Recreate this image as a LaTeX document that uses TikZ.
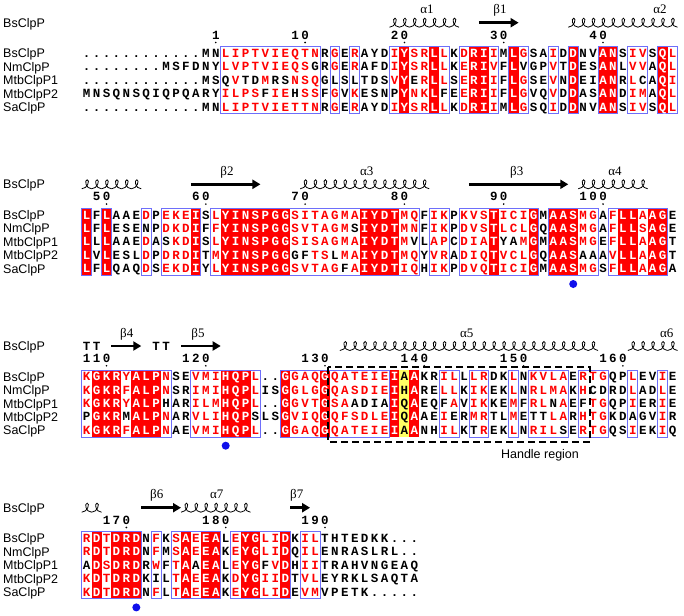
\documentclass[tikz,border=0pt]{standalone}
\usepackage{fontspec}
\setmainfont{Liberation Serif}
\newfontfamily\resfont{Liberation Mono}
\newfontfamily\lblfont{Liberation Sans}
\usetikzlibrary{arrows.meta}
\definecolor{espred}{RGB}{255,0,0}
\definecolor{boxblue}{RGB}{110,110,250}
\definecolor{dotblue}{RGB}{15,15,235}
\definecolor{hlyellow}{RGB}{255,255,100}
\def\sqxz{81.7}
\def\sqcw{9.93}
\def\sqrh{13.4}
\def\sqT{0}
\makeatletter
\newcount\sqcol
\newcount\sqn
\def\sq@end{\sq@end}
\def\sqc{black}
\newcommand\seqat[3]{\global\sqcol=#1\relax\edef\sq@y{#2}\def\sqc{black}\sq@parse#3\sq@end}
\def\sq@parse#1{%
  \ifx#1\sq@end\let\sq@next\relax
  \else\ifx#1+\def\sqc{espred}\let\sq@next\sq@parse
  \else\ifx#1*\def\sqc{white}\let\sq@next\sq@parse
  \else\def\sq@ch{#1}\let\sq@next\sq@place
  \fi\fi\fi\sq@next}
\def\sq@place{\global\advance\sqn by 1\relax
  \node[res,text=\sqc,name=q\the\sqn] at ({\sqxz+(\the\sqcol+0.5)*\sqcw},{\sq@y}) {\sq@ch};%
  \global\advance\sqcol by 1\relax\def\sqc{black}\sq@parse}
\makeatother
\newcommand\rowseq[2]{\seqat{0}{\sqT+\sqrh*#1+\sqrh*0.5+4}{#2}}
\newcommand\colsfill[3]{\fill[#3] ({\sqxz+#1*\sqcw},{\sqT}) rectangle ({\sqxz+(#2+1)*\sqcw},{\sqT+5*\sqrh});}
\newcommand\colsbox[2]{\draw[bbox] ({\sqxz+#1*\sqcw},{\sqT}) rectangle ({\sqxz+(#2+1)*\sqcw},{\sqT+5*\sqrh});}
\newcommand\numlab[3]{\seqat{#1}{\sqT-7.6}{#2}\fill ({\sqxz+(#3+0.5)*\sqcw},{\sqT-4.2}) circle (0.9);}
\newcommand\helix[2]{\foreach \k in {#1,...,#2}{\draw[helixsty] ({\sqxz+\k*\sqcw},{\sqT-19.5}) .. controls +(0.6*\sqcw,0) and +(0.3*\sqcw,0) .. ({\sqxz+(\k+0.55)*\sqcw},{\sqT-28.5}) .. controls +(-0.3*\sqcw,0) and +(-0.6*\sqcw,0) .. ({\sqxz+(\k+1)*\sqcw},{\sqT-19.5});}}
\newcommand\strand[2]{\draw[betasty] ({\sqxz+#1*\sqcw},{\sqT-24}) -- ({\sqxz+(#2+1)*\sqcw},{\sqT-24});}
\newcommand\sslab[3]{\node[greek] (#1) at (#2,{\sqT-33}) {#3};}
\newcommand\bdot[2]{\fill[dotblue] ({\sqxz+(#2+0.5)*\sqcw},{\sqT+75.7}) circle (4);}
\newcommand\rownames[1]{%
 \node[nm] (h#1) at (3,{\sqT-19.5}) {BsClpP};
 \node[nm] (bs#1) at (3,{\sqT+\sqrh*0.5+4.5}) {BsClpP};
 \node[nm] (nm#1) at (3,{\sqT+\sqrh*1.5+4.5}) {NmClpP};
 \node[nm] (ma#1) at (3,{\sqT+\sqrh*2.5+4.5}) {MtbClpP1};
 \node[nm] (mb#1) at (3,{\sqT+\sqrh*3.5+4.5}) {MtbClpP2};
 \node[nm] (sa#1) at (3,{\sqT+\sqrh*4.5+4.5}) {SaClpP};}
\begin{document}
\begin{tikzpicture}[x=1pt,y=-1pt,
  res/.style={font=\resfont\bfseries\fontsize{12.5}{12.5}\selectfont, inner sep=0pt, anchor=base},
  nm/.style={font=\lblfont\fontsize{12.5}{14}\selectfont, inner sep=0pt, anchor=base west},
  greek/.style={font=\fontsize{13}{14}\selectfont, inner sep=0pt, anchor=base},
  helixsty/.style={line width=0.8pt, black},
  betasty/.style={line width=2.8pt, -{Triangle[length=8pt,width=9pt]}},
  bbox/.style={draw=boxblue, line width=0.9pt}]
\fill[white] (0,0) rectangle (684,615);
\useasboundingbox (0,0) rectangle (684,615);
% ---------------- Block 1
\def\sqT{46.7}
\foreach \a/\b in {32/32,35/35,39/40,43/43,49/49,52/53,58/58}{\colsfill{\a}{\b}{espred}}
\foreach \a/\b in {14/23,25/25,27/27,31/36,38/41,43/44,47/47,49/49,52/53,55/56,58/59}{\colsbox{\a}{\b}}
\rowseq{0}{............MN+L+I+P+T+V+I+E+Q+T+NR+GE+RAYD+I*Y+S+R*L+LK+D*R*I+IM*L+GSA+ID*DNV*A*NS+I+VS*Q+L}
\rowseq{1}{........MSFDNY+L+V+P+T+V+I+E+Q+SGR+GE+RAFD+I*Y+S+R*L+LK+E*R*I+VF*LVGP+VT*DES*A*NL+V+VA*Q+L}
\rowseq{2}{............MSQ+VTD+MRS+N+S+QGLSLTDS+V*YE+R*L+LS+E*R*I+IF*L+GSE+VN*DEI*A*NR+LCA*Q+I}
\rowseq{3}{MNSQNSQIQPQARY+I+L+P+SF+I+EH+S+SF+GV+KESNP*Y+N+K*LFE+E*R*I+IF*L+GVQ+VD*DAS*A*ND+I+MA*Q+L}
\rowseq{4}{............MN+L+I+P+T+V+I+E+T+T+NR+GE+RAYD+I*Y+S+R*L+LK+D*R*I+IM*L+GSQ+ID*DNV*A*NS+I+VS*Q+L}
\rownames{1}
\numlab{13}{1}{13}\numlab{21}{10}{22}\numlab{31}{20}{32}\numlab{41}{30}{42}\numlab{51}{40}{52}
\helix{31}{37}\strand{40}{43}\helix{49}{59}
\sslab{a1}{427}{α1}\sslab{b1}{500}{β1}\sslab{a2}{660}{α2}
% ---------------- Block 2
\def\sqT{208.3}
\foreach \a/\b in {0/0,2/2,11/11,14/20,28/31,41/41,45/45,47/49,54/55,57/58}{\colsfill{\a}{\b}{espred}}
\foreach \a/\b in {0/0,2/2,6/6,8/11,13/33,35/36,38/45,47/51,53/58}{\colsbox{\a}{\b}}
\rowseq{0}{*LF*LAAE+DP+E+K+E*IS+L*Y*I*N*S*P*G*G+S+I+T+A+G+M+A*I*Y*D*T+M+QF+I+KP+K+V+S*T+I+C+I*GM*A*A*S+M+GA+F*L*L+A*A*GE}
\rowseq{1}{*LF*LESENP+D+K+D*IF+F*Y*I*N*S*P*G*G+S+V+T+A+G+MS*I*Y*D*T+M+NF+I+KP+D+V+S*T+L+C+L*GQ*A*A*S+M+GA+F*L*L+S*A*GE}
\rowseq{2}{*LL*LAAE+DAS+K+D*IS+L*Y*I*N*S*P*G*G+S+I+S+A+G+M+A*I*Y*D*T+MVL+A+PC+D+I+A*TYA+M*GM*A*A*S+M+GE+F*L*L+A*A*GT}
\rowseq{3}{*LV*LESL+DP+D+R+D*IT+M*Y*I*N*S*P*G*GGF+T+SL+M+A*I*Y*D*T+M+QY+V+RA+D+I+Q*T+V+C+L*GQ*A*A*SAAA+V*L*L+A*A*GT}
\rowseq{4}{*LF*LQAQ+DS+E+K+D*IY+L*Y*I*N*S*P*G*G+S+V+T+A+GF+A*I*Y*D*T+I+QH+I+KP+D+V+Q*T+I+C+I*GM*A*A*S+M+GS+F*L*L+A*A*GA}
\rownames{2}
\numlab{1}{50}{2}\numlab{11}{60}{12}\numlab{21}{70}{22}\numlab{31}{80}{32}\numlab{41}{90}{42}\numlab{50}{100}{52}
\helix{0}{5}\strand{11}{17}\helix{22}{34}\strand{39}{48}\helix{50}{56}
\sslab{b2}{227}{β2}\sslab{a3}{366.7}{α3}\sslab{b3}{516.7}{β3}\sslab{a4}{615}{α4}
\bdot{2}{49}
% ---------------- Block 3
\def\sqT{370}
\foreach \a/\b in {1/3,5/7,14/16,20/20,24/24,31/31,33/33}{\colsfill{\a}{\b}{espred}}
\colsfill{32}{32}{hlyellow}
\foreach \a/\b in {0/8,11/17,20/30,36/37,39/40,43/43,45/48,50/52,55/55,58/58}{\colsbox{\a}{\b}}
\rowseq{0}{+K*G*K*R+Y*A*L*P+NSE+V+M+I*H*Q*P+L..*G+G+A+Q*G+Q+A+T+E+I+E*IA*AKR+I+LL+L+RDK+LN+K+V+L+AE+R+T+GQP+LEV+IE}
\rowseq{1}{+K*G*K*R+F*A*L*P+NSR+I+M+I*H*Q*P+LIS*G+G+L+G*G+Q+A+S+D+I+E*IH*ARE+L+LK+I+KEK+LN+R+L+M+AK+HCDRD+LAD+LE}
\rowseq{2}{+K*G*K*R+Y*A*L*PHAR+I+L+M*H*Q*P+L..*G+G+V+T*G+S+AADIA*IQ*AEQF+AV+I+KKE+MF+R+LN+AEF+T+GQP+IER+IE}
\rowseq{3}{P*G*K*RM*A*L*P+NAR+V+L+I*H*Q*PSLS*G+V+I+Q*G+Q+F+S+D+L+E*IQ*AAE+IER+M+RTL+METT+L+AR+H+T+GKDAGV+IR}
\rowseq{4}{+K*G*K*R+F*A*L*P+NAE+V+M+I*H*Q*P+L..*G+G+A+Q*G+Q+A+T+E+I+E*IA*ANH+I+LKT+REK+LN+R+I+LSE+R+T+GQS+IEK+IQ}
\rownames{3}
\numlab{0}{110}{2}\numlab{10}{120}{12}\numlab{22}{130}{24}\numlab{32}{140}{34}\numlab{42}{150}{44}\numlab{52}{160}{54}
\seqat{0}{\sqT-20}{TT}\seqat{7}{\sqT-20}{TT}
\strand{3}{5}\strand{10}{13}\helix{26}{51}\helix{55}{59}
\sslab{b4}{126.7}{β4}\sslab{b5}{198}{β5}\sslab{a5}{466.7}{α5}\sslab{a6}{666.7}{α6}
\bdot{3}{14}
\draw[line width=2pt, dash pattern=on 7pt off 4pt] (328,{\sqT-3}) rectangle (590,{\sqT+72});
\node[nm, anchor=base] (handle) at (540,458) {Handle region};
% ---------------- Block 4
\def\sqT{531.7}
\foreach \a/\b in {1/1,3/5,10/10,12/13,16/17,20/20}{\colsfill{\a}{\b}{espred}}
\foreach \a/\b in {0/5,7/7,9/13,15/20,22/23}{\colsbox{\a}{\b}}
\rowseq{0}{+R*D+T*D*R*DN+FK+S*A+E*E*AL+E*Y*G+L+I*DK+I+LTHTEDKK...}
\rowseq{1}{+R*D+T*D*R*DN+FM+S*A+E*E*AK+E*Y*G+L+I*DQ+I+LENRASLRL..}
\rowseq{2}{A*D+S*D*R*DR+WF+T*AA*E*AL+E*Y*GF+V*DH+I+ITRAHVNGEAQ}
\rowseq{3}{+K*D+T*D*R*DKIL+T*A+E*E*AK+D*Y*G+I+I*DT+V+LEYRKLSAQTA}
\rowseq{4}{+K*D+T*D*R*DN+FL+T*A+E*E*AK+E*Y*G+L+I*DE+V+MVPETK.....}
\rownames{4}
\numlab{2}{170}{4}\numlab{12}{180}{14}\numlab{22}{190}{24}
\helix{0}{1}\strand{6}{9}\helix{10}{16}\strand{21}{22}
\sslab{b6}{156.7}{β6}\sslab{a7}{216.7}{α7}\sslab{b7}{296.7}{β7}
\bdot{4}{5}
\end{tikzpicture}
\end{document}
